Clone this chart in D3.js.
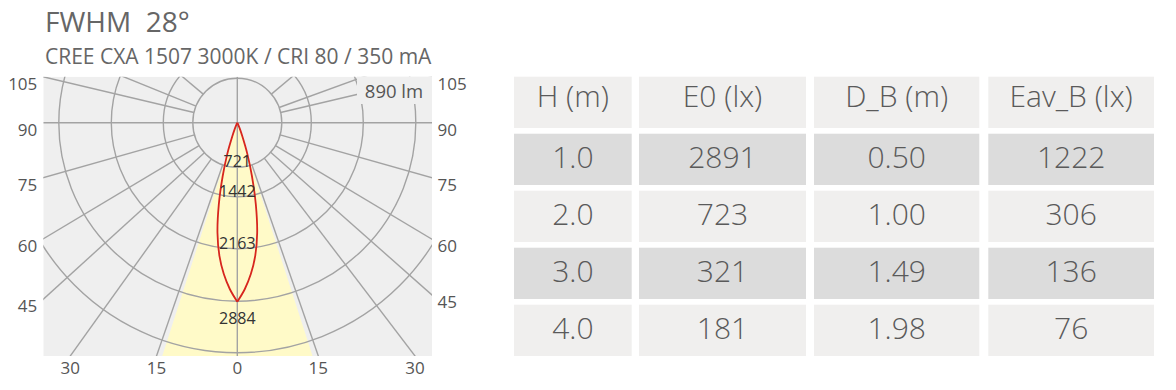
<!DOCTYPE html>
<html>
<head>
<meta charset="utf-8">
<script src="https://cdn.jsdelivr.net/npm/d3@7/dist/d3.min.js"></script>
<style>
  body { margin: 0; background: #fff; }
  text { font-family: "Open Sans", "Noto Sans", sans-serif; }
</style>
</head>
<body>
<script>
// ---- data ----
var title = "FWHM  28°";
var subtitle = "CREE CXA 1507 3000K / CRI 80 / 350 mA";
var fluxLabel = "890 lm";

var angleTicks = [0, 15, 30, 45, 60, 75, 90, 105, 120, 135];
var ringValues = [721, 1442, 2163, 2884, 3605];
var ringLabels = [721, 1442, 2163, 2884];
var beamHalfAngle = 14;

// luminous intensity (cd) against angle from nadir
var curveAngles = [0, 2, 4, 6, 8, 10, 12, 14, 16, 18, 20, 22, 25];
var curveCd = [2891, 2722, 2520, 2279, 1970, 1580, 990, 526, 230, 100, 30, 8, 0];

var headers = ["H (m)", "E0 (lx)", "D_B (m)", "Eav_B (lx)"];
var heights = ["1.0", "2.0", "3.0", "4.0"];
var e0 = [2891, 723, 321, 181];
var dB = ["0.50", "1.00", "1.49", "1.98"];
var eavB = [1222, 306, 136, 76];

// ---- layout ----
var W = 1176, H = 390;
var plot = { x0: 43.3, x1: 432, y0: 76.7, y1: 356 };
var cx = 237.3, cy = 122.7;
var gridColor = "#a3a3a3";

var svg = d3.select("body").append("svg")
    .attr("width", W)
    .attr("height", H);

svg.append("text")
    .attr("x", 45).attr("y", 32)
    .style("white-space", "pre")
    .attr("font-size", 28)
    .attr("fill", "#666")
    .text(title);

svg.append("text")
    .attr("x", 45).attr("y", 64)
    .attr("font-size", 21)
    .attr("fill", "#666")
    .text(subtitle);

// scales: radius in px for cd, displayed angle for nominal angle (per side)
var r = d3.scaleLinear()
    .domain([0, 721, 1442, 2163, 2884, 3605])
    .range([0, 44.5, 74, 126, 178.5, 230]);

var angleLeft = d3.scaleLinear()
    .domain(angleTicks)
    .range([0, 19.1, 35.6, 47.7, 59.1, 74.2, 90, 103.3, 112, 130]);
var angleRight = d3.scaleLinear()
    .domain(angleTicks)
    .range([0, 19.15, 37.3, 48.5, 59.1, 74.2, 90, 103.3, 110, 130]);

function pt(side, a, rad) {
  var sc = side < 0 ? angleLeft : angleRight;
  var d = sc(a) * Math.PI / 180;
  return [cx + side * rad * Math.sin(d), cy + rad * Math.cos(d)];
}

svg.append("clipPath").attr("id", "clip")
  .append("rect")
    .attr("x", plot.x0).attr("y", plot.y0)
    .attr("width", plot.x1 - plot.x0).attr("height", plot.y1 - plot.y0);

var g = svg.append("g").attr("clip-path", "url(#clip)");

g.append("rect")
    .attr("x", plot.x0).attr("y", plot.y0)
    .attr("width", plot.x1 - plot.x0).attr("height", plot.y1 - plot.y0)
    .attr("fill", "#efefef");

// beam cone
var c1 = pt(-1, beamHalfAngle, 600), c2 = pt(1, beamHalfAngle, 600);
g.append("path")
    .attr("d", "M" + cx + "," + cy + "L" + c1 + "L" + c2 + "Z")
    .attr("fill", "#fffac8");

// rings
g.selectAll("circle.ring")
    .data(ringValues)
    .enter()
  .append("circle")
    .attr("class", "ring")
    .attr("cx", cx).attr("cy", cy)
    .attr("r", function(d) { return r(d); })
    .attr("fill", "none")
    .attr("stroke", gridColor)
    .attr("stroke-width", 1.4);

// rays
var rays = [];
angleTicks.forEach(function(a) {
  if (a === 0 || a === 90) return;
  rays.push({ side: -1, a: a });
  rays.push({ side: 1, a: a });
});
g.selectAll("line.ray")
    .data(rays)
    .enter()
  .append("line")
    .attr("class", "ray")
    .attr("x1", function(d) { return pt(d.side, d.a, r(721))[0]; })
    .attr("y1", function(d) { return pt(d.side, d.a, r(721))[1]; })
    .attr("x2", function(d) { return pt(d.side, d.a, 600)[0]; })
    .attr("y2", function(d) { return pt(d.side, d.a, 600)[1]; })
    .attr("stroke", gridColor)
    .attr("stroke-width", 1.4);

g.append("line")
    .attr("x1", cx).attr("x2", cx).attr("y1", plot.y0).attr("y2", plot.y1)
    .attr("stroke", gridColor).attr("stroke-width", 1.4);
g.append("line")
    .attr("x1", plot.x0).attr("x2", plot.x1).attr("y1", cy).attr("y2", cy)
    .attr("stroke", gridColor).attr("stroke-width", 1.4);

// intensity curve, one half per side meeting in a point at the peak
var line = d3.line().curve(d3.curveCatmullRom);
[-1, 1].forEach(function(side) {
  var pts = curveAngles.map(function(a, i) { return pt(side, a, r(curveCd[i])); });
  g.append("path")
      .attr("d", line(pts))
      .attr("fill", "none")
      .attr("stroke", "#d7261e")
      .attr("stroke-width", 1.8);
});

// ring value labels
svg.selectAll("text.ringlabel")
    .data(ringLabels)
    .enter()
  .append("text")
    .attr("class", "ringlabel")
    .attr("x", cx)
    .attr("y", function(d, i) { return cy + r(d) + (i === ringLabels.length - 1 ? 23 : 0); })
    .attr("text-anchor", "middle")
    .attr("font-size", 16)
    .attr("fill", "#333")
    .text(function(d) { return d; });

// flux box
svg.append("rect")
    .attr("x", 357).attr("y", plot.y0)
    .attr("width", plot.x1 - 357).attr("height", 104 - plot.y0)
    .attr("fill", "#efefef");
svg.append("text")
    .attr("x", 394).attr("y", 97.7)
    .attr("text-anchor", "middle")
    .attr("font-size", 18.5)
    .attr("fill", "#555")
    .text(fluxLabel);

// angle labels where rays leave the plot
var angleLabels = [];
angleTicks.forEach(function(a) {
  if (a > 105) return;
  (a === 0 ? [1] : [-1, 1]).forEach(function(side) {
    var sc = side < 0 ? angleLeft : angleRight;
    var d = sc(a) * Math.PI / 180;
    var edge = side < 0 ? cx - plot.x0 : plot.x1 - cx;
    var tSide = Math.sin(d) > 1e-6 ? edge / Math.sin(d) : Infinity;
    var tBot = Math.cos(d) > 1e-6 ? (plot.y1 - cy) / Math.cos(d) : Infinity;
    if (tBot < tSide) {
      angleLabels.push({ t: a, x: cx + side * tBot * Math.sin(d), y: 374, anchor: "middle" });
    } else {
      angleLabels.push({
        t: a,
        x: side < 0 ? plot.x0 - 6 : plot.x1 + 5.5,
        y: cy + tSide * Math.cos(d) + 13,
        anchor: side < 0 ? "end" : "start"
      });
    }
  });
});
svg.selectAll("text.anglelabel")
    .data(angleLabels)
    .enter()
  .append("text")
    .attr("class", "anglelabel")
    .attr("x", function(d) { return d.x; })
    .attr("y", function(d) { return d.y; })
    .attr("text-anchor", function(d) { return d.anchor; })
    .attr("font-size", 17)
    .attr("fill", "#555")
    .text(function(d) { return d.t; });

// ---- table ----
var colX = [514, 639, 814, 988.3];
var colW = [117.7, 167, 165.3, 165.7];
var rowY = d3.scaleBand().domain(d3.range(5)).range([76.7, 356]).paddingInner(0.1);

var rows = [headers].concat(heights.map(function(h, i) {
  return [h, e0[i], dB[i], eavB[i]];
}));

var cells = [];
rows.forEach(function(row, ri) {
  row.forEach(function(v, ci) { cells.push({ row: ri, col: ci, v: v }); });
});

var tg = svg.append("g");
tg.selectAll("rect")
    .data(cells)
    .enter()
  .append("rect")
    .attr("x", function(d) { return colX[d.col]; })
    .attr("y", function(d) { return rowY(d.row); })
    .attr("width", function(d) { return colW[d.col]; })
    .attr("height", rowY.bandwidth())
    .attr("fill", function(d) { return d.row % 2 === 1 ? "#dcdcdc" : "#f0efee"; });

tg.selectAll("text")
    .data(cells)
    .enter()
  .append("text")
    .attr("x", function(d) { return colX[d.col] + colW[d.col] / 2; })
    .attr("y", function(d) { return rowY(d.row) + (d.row === 0 ? 30.5 : 34.5); })
    .attr("text-anchor", "middle")
    .attr("font-size", 30)
    .attr("font-weight", 300)
    .attr("fill", "#5a5a5a")
    .text(function(d) { return d.v; });
</script>
</body>
</html>
